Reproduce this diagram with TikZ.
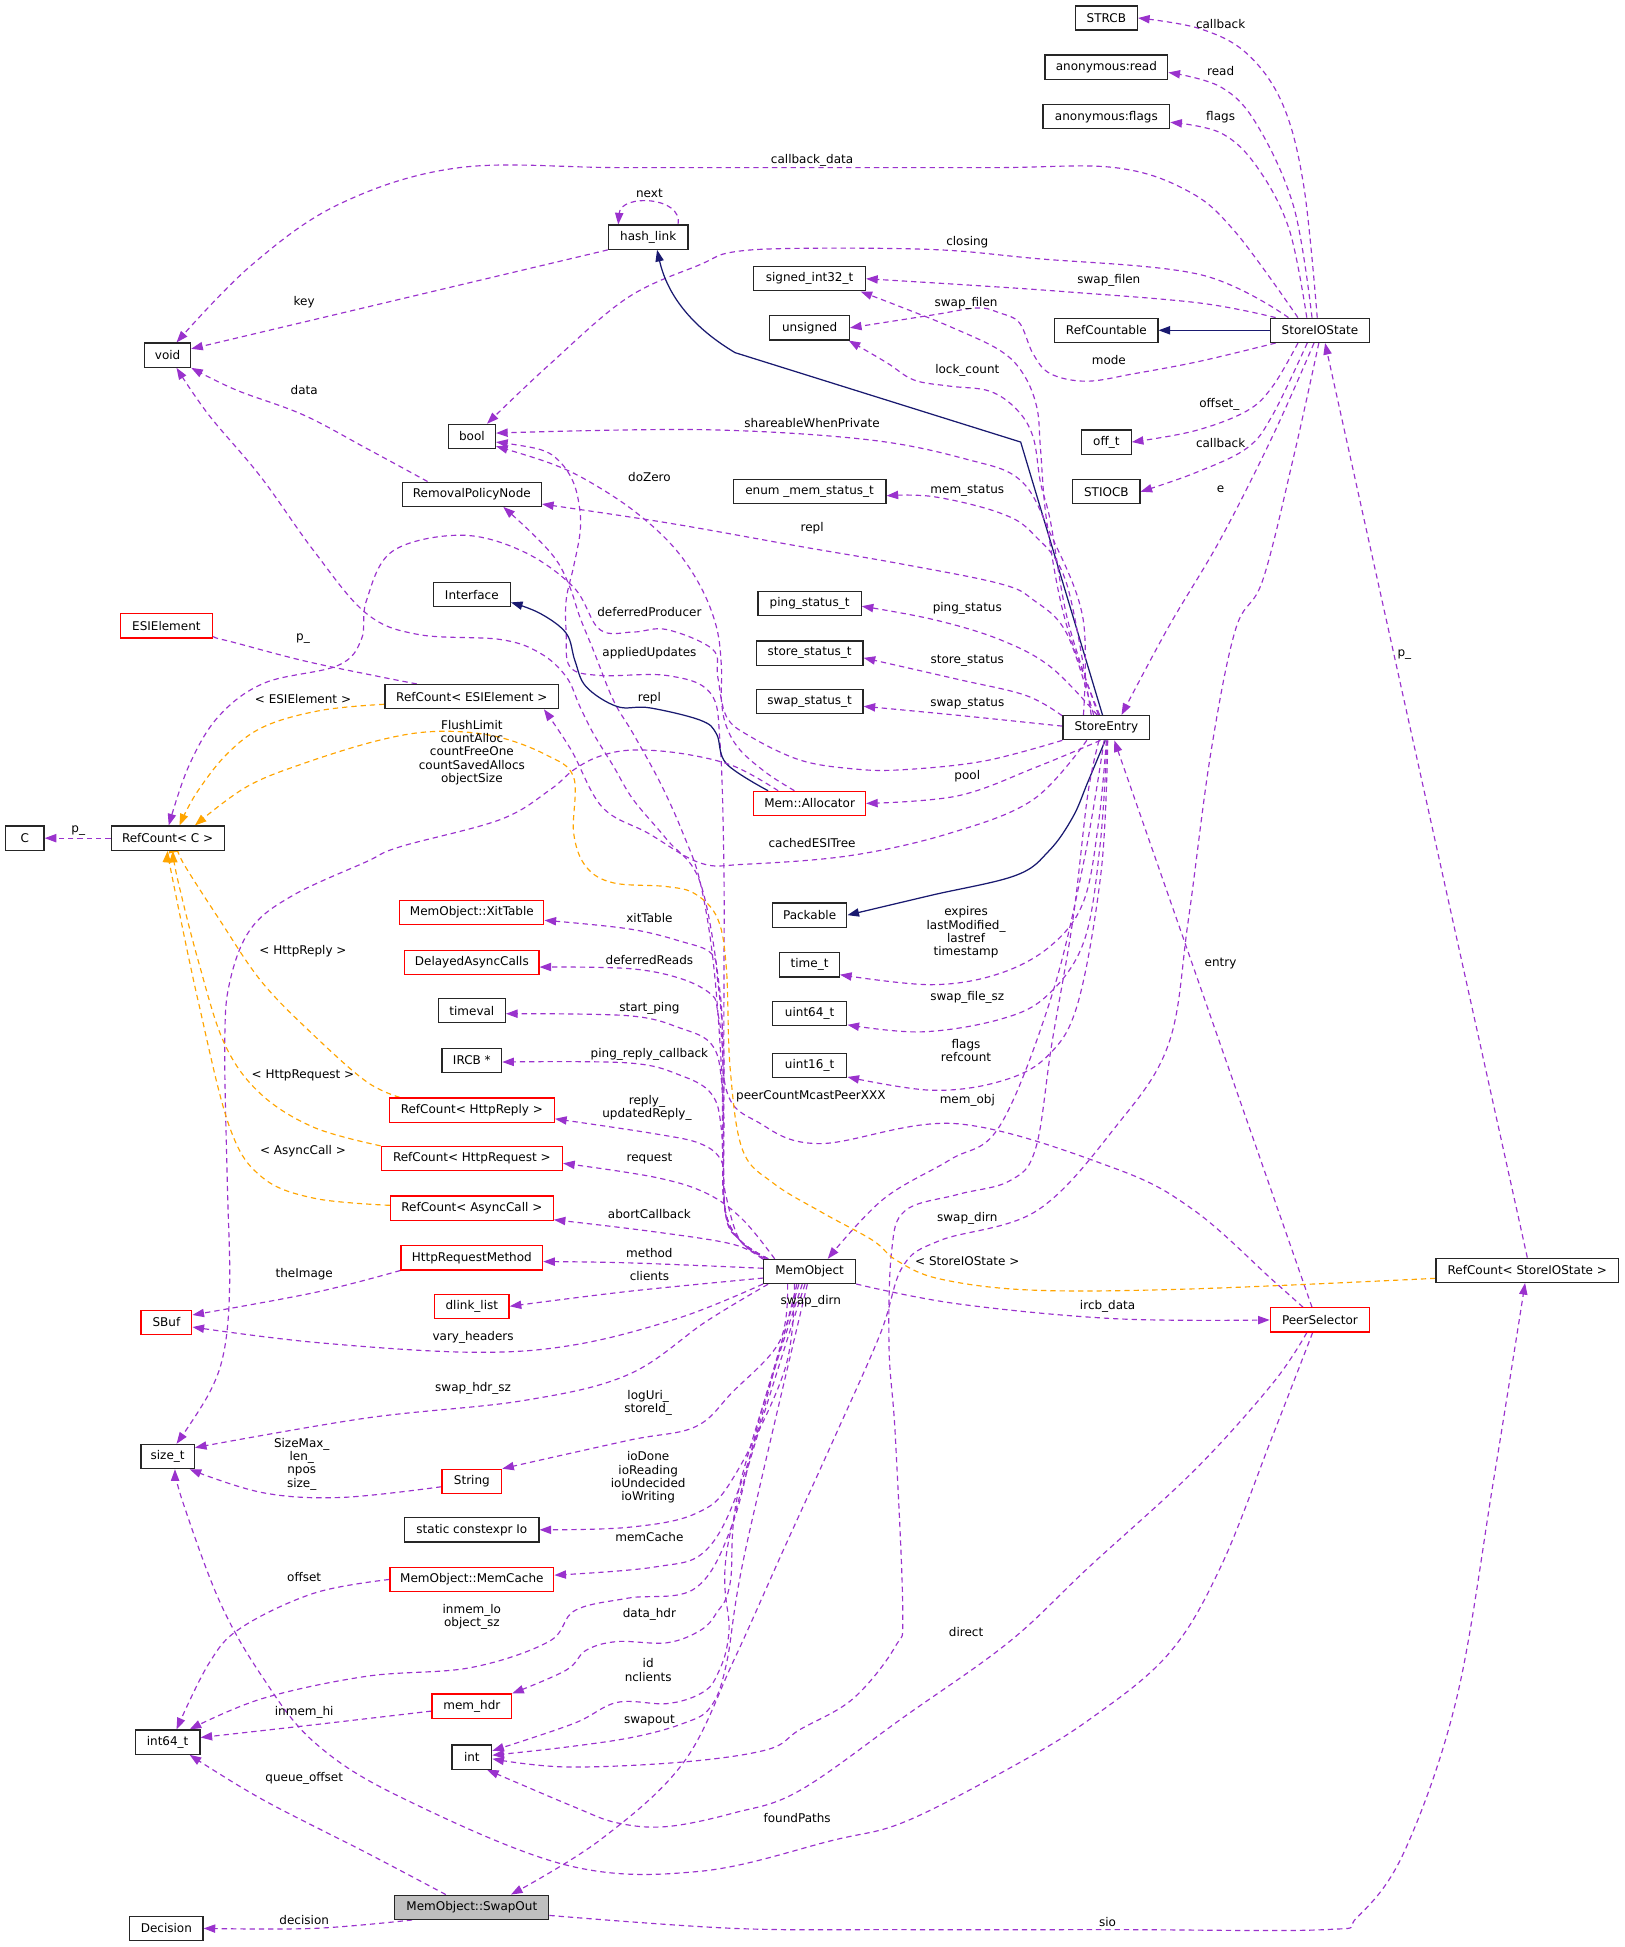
\documentclass[tikz,border=0pt]{standalone}
\usepackage{fontspec}
\setmainfont{DejaVu Sans}
\usetikzlibrary{arrows.meta,backgrounds}
\definecolor{pur}{HTML}{9A32CD}
\definecolor{org}{HTML}{FFA500}
\definecolor{nav}{HTML}{191970}
\definecolor{gfill}{HTML}{BFBFBF}
\newcommand{\lblfont}{\fontsize{7.25}{8.06}\selectfont}
\begin{document}
\begin{tikzpicture}[x=0.75pt,y=-0.75pt,
 cls/.style={draw=black!85,line width=0.75pt,fill=white,inner sep=0pt,minimum height=14.6pt,font=\lblfont},
 rcls/.style={cls,draw=red},
 bw/.style={minimum width=#1*0.75pt},
 lab/.style={inner sep=0pt,align=center,font=\lblfont},
 mem/.style={draw=pur,line width=0.7pt,dash pattern=on 3.2pt off 2.4pt,-{Triangle[length=7pt,width=5pt]}},
 tmpl/.style={mem,draw=org},
 inh/.style={draw=nav,line width=0.75pt,-{Triangle[length=7pt,width=5pt]}},
 sm/.style={smooth,tension=0.6}]
\useasboundingbox (0,0) rectangle (1308,1568);
% ---------------- nodes
\node[cls,bw=50] (STRCB) at (891,14.5) {STRCB};
\node[cls,bw=99] (anonread) at (891,54) {anonymous:read};
\node[cls,bw=102] (anonflags) at (891,94) {anonymous:flags};
\node[cls,bw=64] (hashlink) at (522,191) {hash\_link};
\node[cls,bw=90] (signed) at (652,224.5) {signed\_int32\_t};
\node[cls,bw=64] (unsigned) at (652,264) {unsigned};
\node[cls,bw=83] (RefCountable) at (891,266) {RefCountable};
\node[cls,bw=80] (StoreIOState) at (1063,266) {StoreIOState};
\node[cls,bw=37] (void) at (135,286) {void};
\node[cls,bw=38] (bool) at (380,351.5) {bool};
\node[cls,bw=40] (offt) at (891,356) {off\_t};
\node[cls,bw=112] (RPN) at (380,398) {RemovalPolicyNode};
\node[cls,bw=123] (enum) at (652,396) {enum \_mem\_status\_t};
\node[cls,bw=54] (STIOCB) at (891,396) {STIOCB};
\node[cls,bw=62] (Interface) at (380,479) {Interface};
\node[rcls,bw=74] (ESIElement) at (134,504) {ESIElement};
\node[cls,bw=83] (ping) at (652,486) {ping\_status\_t};
\node[cls,bw=86] (store) at (652,526) {store\_status\_t};
\node[cls,bw=86] (swap) at (652,565) {swap\_status\_t};
\node[cls,bw=140] (RCESI) at (380,561) {RefCount< ESIElement >};
\node[cls,bw=70] (StoreEntry) at (891,586) {StoreEntry};
\node[cls,bw=31] (C) at (20,675) {C};
\node[cls,bw=91] (RCC) at (135,675) {RefCount< C >};
\node[rcls,bw=90] (MemAlloc) at (652,647) {Mem::Allocator};
\node[cls,bw=60] (Packable) at (652,737) {Packable};
\node[rcls,bw=116] (XitTable) at (380,735) {MemObject::XitTable};
\node[cls,bw=48] (timet) at (652,777) {time\_t};
\node[rcls,bw=108] (Delayed) at (380,775) {DelayedAsyncCalls};
\node[cls,bw=54] (timeval) at (380,814) {timeval};
\node[cls,bw=60] (uint64) at (652,816) {uint64\_t};
\node[cls,bw=60] (uint16) at (652,858) {uint16\_t};
\node[cls,bw=48] (IRCB) at (380,854) {IRCB *};
\node[rcls,bw=133] (RCReply) at (380,894) {RefCount< HttpReply >};
\node[rcls,bw=146] (RCRequest) at (380,933) {RefCount< HttpRequest >};
\node[rcls,bw=131] (RCAsync) at (380,973) {RefCount< AsyncCall >};
\node[rcls,bw=114] (HRM) at (380,1013) {HttpRequestMethod};
\node[cls,bw=74] (MemObject) at (652,1024) {MemObject};
\node[cls,bw=147] (RCSIO) at (1230,1023) {RefCount< StoreIOState >};
\node[rcls,bw=60] (dlink) at (380,1052) {dlink\_list};
\node[rcls,bw=80] (PeerSelector) at (1063,1063) {PeerSelector};
\node[rcls,bw=41] (SBuf) at (134,1065) {SBuf};
\node[cls,bw=43] (sizet) at (135,1173) {size\_t};
\node[rcls,bw=48] (String) at (380,1193) {String};
\node[cls,bw=108] (Io) at (380,1232) {static constexpr Io};
\node[rcls,bw=132] (MemCache) at (380,1272) {MemObject::MemCache};
\node[cls,bw=52] (int64) at (135,1403) {int64\_t};
\node[rcls,bw=64] (memhdr) at (380,1374) {mem\_hdr};
\node[cls,bw=32] (int) at (380,1415) {int};
\node[cls,bw=124,fill=gfill] (SwapOut) at (380,1536) {MemObject::SwapOut};
\node[cls,bw=59] (Decision) at (134,1553) {Decision};
% ---------------- labels
\node[lab] (l1) at (983,19) {callback};
\node[lab] (l2) at (983,57) {read};
\node[lab] (l3) at (983,94) {flags};
\node[lab] (l4) at (654,129) {callback\_data};
\node[lab] (l5) at (523,156) {next};
\node[lab] (l6) at (779,195) {closing};
\node[lab] (l7) at (893,226) {swap\_filen};
\node[lab] (l8) at (778,244) {swap\_filen};
\node[lab] (l9) at (245,243) {key};
\node[lab] (l10) at (893,290) {mode};
\node[lab] (l11) at (779,298) {lock\_count};
\node[lab] (l12) at (245,314) {data};
\node[lab] (l13) at (982,326) {offset\_};
\node[lab] (l14) at (654,341) {shareableWhenPrivate};
\node[lab] (l15) at (983,357) {callback};
\node[lab] (l16) at (523,384) {doZero};
\node[lab] (l17) at (983,394) {e};
\node[lab] (l18) at (779,395) {mem\_status};
\node[lab] (l19) at (654,425) {repl};
\node[lab] (l20) at (523,493) {deferredProducer};
\node[lab] (l21) at (779,490) {ping\_status};
\node[lab] (l22) at (244,514) {p\_};
\node[lab] (l23) at (523,526) {appliedUpdates};
\node[lab] (l24) at (1131,527) {p\_};
\node[lab] (l25) at (779,532) {store\_status};
\node[lab] (l26) at (523,562) {repl};
\node[lab] (l27) at (244,563) {< ESIElement >};
\node[lab] (l28) at (779,567) {swap\_status};
\node[lab] (l29) at (380,606) {FlushLimit\\countAlloc\\countFreeOne\\countSavedAllocs\\objectSize};
\node[lab] (l30) at (779,625) {pool};
\node[lab] (l31) at (63,669) {p\_};
\node[lab] (l32) at (654,679) {cachedESITree};
\node[lab] (l33) at (778,751) {expires\\lastModified\_\\lastref\\timestamp};
\node[lab] (l34) at (523,739) {xitTable};
\node[lab] (l35) at (244,766) {< HttpReply >};
\node[lab] (l36) at (523,773) {deferredReads};
\node[lab] (l37) at (983,776) {entry};
\node[lab] (l38) at (779,803) {swap\_file\_sz};
\node[lab] (l39) at (523,812) {start\_ping};
\node[lab] (l40) at (778,846) {flags\\refcount};
\node[lab] (l41) at (523,849) {ping\_reply\_callback};
\node[lab] (l42) at (244,866) {< HttpRequest >};
\node[lab] (l43) at (653,883) {peerCountMcastPeerXXX};
\node[lab] (l44) at (779,886) {mem\_obj};
\node[lab] (l45) at (521,892) {reply\_\\updatedReply\_};
\node[lab] (l46) at (244,927) {< AsyncCall >};
\node[lab] (l47) at (523,933) {request};
\node[lab] (l48) at (523,978) {abortCallback};
\node[lab] (l49) at (779,981) {swap\_dirn};
\node[lab] (l50) at (523,1009) {method};
\node[lab] (l51) at (779,1016) {< StoreIOState >};
\node[lab] (l52) at (245,1026) {theImage};
\node[lab] (l53) at (523,1028) {clients};
\node[lab] (l54) at (653,1048) {swap\_dirn};
\node[lab] (l55) at (892,1052) {ircb\_data};
\node[lab] (l56) at (381,1077) {vary\_headers};
\node[lab] (l57) at (381,1118) {swap\_hdr\_sz};
\node[lab] (l58) at (522,1130) {logUri\_\\storeId\_};
\node[lab] (l59) at (243,1179) {SizeMax\_\\len\_\\npos\\size\_};
\node[lab] (l60) at (522,1190) {ioDone\\ioReading\\ioUndecided\\ioWriting};
\node[lab] (l61) at (523,1238) {memCache};
\node[lab] (l62) at (245,1270) {offset};
\node[lab] (l63) at (380,1302) {inmem\_lo\\object\_sz};
\node[lab] (l64) at (523,1300) {data\_hdr};
\node[lab] (l65) at (778,1314) {direct};
\node[lab] (l66) at (522,1345) {id\\nclients};
\node[lab] (l67) at (245,1379) {inmem\_hi};
\node[lab] (l68) at (523,1386) {swapout};
\node[lab] (l69) at (245,1432) {queue\_offset};
\node[lab] (l70) at (642,1464) {foundPaths};
\node[lab] (l71) at (245,1546) {decision};
\node[lab] (l72) at (892,1548) {sio};
% ---------------- edges
\begin{pgfonlayer}{background}
\fill[white] (0,0) rectangle (1308,1568);
% StoreIOState
\draw[mem] plot[sm] coordinates {(StoreIOState.102) (1050,150) (1033,84) (1004,43) (966,23) (STRCB.east)};
\draw[mem] plot[sm] coordinates {(StoreIOState.122) (1042,167) (1012,100) (983,70) (anonread.-5)};
\draw[mem] plot[sm] coordinates {(StoreIOState.136) (1038,184) (1012,134) (983,107) (anonflags.-5)};
\draw[mem] plot[sm] coordinates {(StoreIOState.150) (995,187) (957,154) (898,135) (800,135) (650,135) (500,135) (370,135) (274,164) (202,214) (void.55)};
\draw[mem] plot[sm] coordinates {(StoreIOState.158) (966,221) (832,208) (752,201) (644,200) (590,203) (564,213) (505,240) (442,294) (bool.40)};
\draw[mem] plot[sm] coordinates {(StoreIOState.164) (966,244) (859,235) (779,229.5) (signed.east)};
\draw[inh] (StoreIOState.west) -- (RefCountable.east);
\draw[mem] plot[sm] coordinates {(StoreIOState.-164) (966,291) (913,301) (875,307) (846,301) (832,285) (821,260) (805,252) (787,248) (752,253.5) (unsigned.east)};
\draw[mem] plot[sm] coordinates {(StoreIOState.-150) (1025,311) (1004,331) (962,347) (offt.east)};
\draw[mem] plot[sm] coordinates {(StoreIOState.-135) (1025,334) (1004,361) (962,381) (STIOCB.east)};
\draw[mem] plot[sm] coordinates {(StoreIOState.-115) (1025,351) (983,434) (941,505) (StoreEntry.40)};
\draw[mem] plot[sm] coordinates {(StoreIOState.-95) (1042,367) (1017,467) (995,507) (975,607) (957,741) (941,841) (898,908) (835,975) (757,999) (727,1020) (709,1074) (671,1160) (631,1248) (591,1337) (550,1420) (483,1482) (SwapOut.18)};
\draw[mem] (RCSIO.north) -- (StoreIOState.-68);
% PeerSelector
\draw[mem] (PeerSelector.122) -- (StoreEntry.-58);
\draw[mem] plot[sm] coordinates {(PeerSelector.-136) (1025,1114) (962,1184) (877,1262) (813,1322) (729,1382) (644,1442) (591,1460) (537,1471) (497,1468) (462,1455) (int.-40)};
\draw[mem] plot[sm] coordinates {(PeerSelector.-120) (1025,1156) (983,1262) (941,1332) (877,1385) (813,1424) (729,1467) (671,1482) (564,1507) (456,1502) (322,1447) (253,1403) (211,1350) (177,1290) (147,1209) (sizet.-60)};
\draw[mem] plot[sm] coordinates {(PeerSelector.143) (1025,1031) (962,975) (898,941) (771,905) (660,921) (611,904) (585,878) (580,800) (564,711) (537,676) (510,644) (494,617) (478,591) (467,569) (456,545) (435,526) (403,515) (337,511) (295,494) (253,444) (210,384) (168,334) (void.-55)};
\draw[mem] plot[sm] coordinates {(MemObject.-15) (771,1050) (898,1062) (PeerSelector.west)};
% SwapOut
\draw[mem] plot[sm] coordinates {(SwapOut.-6) (591,1553) (725,1554) (900,1554) (1067,1554) (1093,1544) (1131,1491) (1173,1368) (1203,1191) (RCSIO.-100)};
\draw[mem] plot[sm] coordinates {(SwapOut.154) (295,1492) (211,1449) (int64.-30)};
\draw[mem] plot[sm] coordinates {(SwapOut.-168) (253,1553) (Decision.east)};
% MemObject
\draw[mem] plot[sm] coordinates {(MemObject.163) (596,999) (584,975) (582,930) (583,850) (578,790) (573,768) (548,758) (506,748) (XitTable.-6)};
\draw[mem] plot[sm] coordinates {(MemObject.163) (596,999) (584,975) (582,930) (582,850) (578,815) (573,801) (548,788) (506,780) (Delayed.-4)};
\draw[mem] plot[sm] coordinates {(MemObject.163) (596,999) (584,975) (582,930) (581,870) (573,841) (548,828) (506,818) (timeval.-5)};
\draw[mem] plot[sm] coordinates {(MemObject.163) (596,999) (584,975) (581,910) (573,881) (548,866) (506,856) (IRCB.-3)};
\draw[mem] plot[sm] coordinates {(MemObject.163) (596,999) (584,960) (581,935) (564,921) (527,913) (RCReply.-6)};
\draw[mem] plot[sm] coordinates {(MemObject.160) (598,982) (569,961) (527,948) (RCRequest.-3)};
\draw[mem] plot[sm] coordinates {(MemObject.165) (590,1002) (527,992) (RCAsync.-8)};
\draw[mem] plot[sm] coordinates {(MemObject.176) (506,1017) (HRM.-3)};
\draw[mem] plot[sm] coordinates {(MemObject.-172) (506,1040) (dlink.east)};
\draw[mem] plot[sm] coordinates {(MemObject.-165) (548,1061) (463,1083) (379,1089) (253,1081) (SBuf.-10)};
\draw[mem] plot[sm] coordinates {(HRM.-170) (253,1041) (SBuf.16)};
\draw[mem] plot[sm] coordinates {(MemObject.-163) (569,1064) (506,1107) (421,1128) (295,1142) (sizet.18)};
\draw[mem] plot[sm] coordinates {(String.-170) (274,1206) (211,1202) (sizet.-30)};
\draw[mem] plot[sm] coordinates {(MemObject.-150) (628,1080) (590,1121) (560,1149) (506,1160) (String.north east)};
\draw[mem] plot[sm] coordinates {(MemObject.-140) (632,1103) (590,1191) (560,1219) (506,1230) (Io.east)};
\draw[mem] plot[sm] coordinates {(MemObject.-135) (628,1087) (598,1191) (569,1248) (527,1262) (MemCache.3)};
\draw[mem] plot[sm] coordinates {(MemObject.-130) (612,1141) (590,1227) (560,1279) (506,1287) (463,1297) (442,1322) (379,1343) (295,1350) (211,1368) (int64.30)};
\draw[mem] plot[sm] coordinates {(MemCache.west) (253,1283) (194,1311) (168,1340) (int64.55)};
\draw[mem] plot[sm] coordinates {(memhdr.-173) (253,1389) (int64.8)};
\draw[mem] plot[sm] coordinates {(MemObject.-120) (596,1195) (588,1275) (577,1299) (564,1313) (537,1323) (497,1322) (472,1329) (456,1345) (memhdr.north east)};
\draw[mem] plot[sm] coordinates {(MemObject.-110) (588,1235) (587,1315) (577,1350) (564,1364) (537,1372) (497,1371) (462,1388) (int.17)};
\draw[mem] plot[sm] coordinates {(MemObject.-100) (600,1250) (585,1340) (572,1375) (550,1388) (510,1399) (456,1407) (int.5)};
\draw[mem] plot[sm] coordinates {(MemObject.164) (596,999) (584,975) (583,900) (583,800) (583,700) (580,600) (572,558) (537,544) (483,544) (459,537) (456,510) (456,483) (462,456) (467,430) (467,411) (462,389) (451,372) (435,362) (bool.-13)};
\draw[mem] plot[sm] coordinates {(MemObject.165) (596,999) (584,975) (582,880) (575,780) (564,711) (550,671) (532,631) (510,591) (494,564) (478,524) (467,497) (459,473) (448,451) (429,430) (RPN.-22)};
% StoreEntry
\draw[inh] (StoreEntry.107) -- (822,356) -- (592,284) .. controls (560,265) and (538,240) .. (hashlink.-55);
\draw[inh] plot[sm] coordinates {(StoreEntry.-95) (876,630) (864,658) (845,685) (818,705) (750,721) (Packable.east)};
\draw[mem] plot[sm] coordinates {(StoreEntry.118) (858,500) (843,420) (838,362) (835,328) (824,301) (805,282) (765,263) (725,247) (signed.-14)};
\draw[mem] plot[sm] coordinates {(StoreEntry.122) (860,500) (846,420) (838,389) (832,352) (819,330) (797,315) (765,311) (736,306) (714,292) (unsigned.-18)};
\draw[mem] plot[sm] coordinates {(StoreEntry.151) (872,497) (846,430) (822,387) (779,370) (698,354) (564,346) (bool.8)};
\draw[mem] plot[sm] coordinates {(StoreEntry.140) (859,470) (832,430) (805,413) (752,400) (enum.-3)};
\draw[mem] plot[sm] coordinates {(StoreEntry.135) (859,510) (832,483) (805,470) (725,454) (644,440) (537,421) (RPN.-8)};
\draw[mem] plot[sm] coordinates {(StoreEntry.126) (846,537) (805,515) (752,499) (ping.-3)};
\draw[mem] plot[sm] coordinates {(StoreEntry.165) (826,560) (771,547) (store.-5)};
\draw[mem] plot[sm] coordinates {(StoreEntry.178) (771,576) (swap.-5)};
\draw[mem] plot[sm] coordinates {(StoreEntry.-115) (834,618) (771,641) (MemAlloc.east)};
\draw[mem] plot[sm] coordinates {(StoreEntry.-147) (832,644) (765,671) (685,689) (600,696) (564,695) (522,671) (485,650) (460,604) (RCESI.-10)};
\draw[mem] plot[sm] coordinates {(StoreEntry.south west) (792,613) (725,620) (685,619) (644,612) (604,593) (585,577) (578,545) (574,523) (537,507) (510,509) (483,507) (462,473) (421,444) (371,431) (316,444) (295,484) (291,515) (272,536) (213,550) (176,577) (152,617) (RCC.85)};
\draw[mem] plot[sm] coordinates {(StoreEntry.-90) (885,660) (873,725) (847,761) (805,784) (750,793) (timet.-18)};
\draw[mem] plot[sm] coordinates {(StoreEntry.-87) (886,680) (873,758) (843,802) (805,821) (742,831) (uint64.-17)};
\draw[mem] plot[sm] coordinates {(StoreEntry.-84) (887,700) (868,808) (843,851) (805,871) (750,878) (uint16.-17)};
\draw[mem] plot[sm] coordinates {(StoreEntry.-100) (872,698) (846,805) (805,907) (765,934) (711,966) (MemObject.35)};
\draw[mem] plot[sm] coordinates {(StoreEntry.-120) (876,640) (864,741) (847,841) (834,925) (813,951) (771,962) (729,975) (718,1008) (716,1086) (721,1156) (727,1297) (721,1326) (687,1368) (644,1393) (618,1409) (550,1419) (456,1423) (int.-5)};
% Mem::Allocator
\draw[inh] plot[sm] coordinates {(MemAlloc.163) (585,615) (577,591) (564,580) (523,570) (497,569) (472,553) (463,532) (456,510) (435,494) (Interface.-11)};
\draw[mem] plot[sm] coordinates {(MemAlloc.158) (591,617) (550,607) (510,604) (483,609) (462,620) (443,636) (403,660) (322,682) (295,694) (236,721) (202,748) (185,791) (181,841) (183,950) (185,1031) (181,1085) (169,1121) (sizet.55)};
\draw[mem] plot[sm] coordinates {(MemAlloc.140) (618,623) (596,604) (585,585) (581,564) (581,537) (577,505) (564,472) (542,440) (510,411) (473,387) (443,373) (bool.-22)};
% templates
\draw[tmpl] plot[sm] coordinates {(RCESI.-175) (259,572) (213,585) (183,607) (158,639) (RCC.47)};
\draw[tmpl] plot[sm] coordinates {(RCSIO.-175) (960,1038) (832,1039) (757,1030) (722,1015) (703,999) (663,977) (623,953) (598,926) (588,860) (585,780) (578,740) (560,720) (537,714) (494,711) (472,698) (462,671) (462,626) (440,608) (399,593) (352,589) (306,596) (244,615) (198,634) (RCC.25)};
\draw[tmpl] plot[sm] coordinates {(RCReply.170) (295,871) (253,834) (211,791) (177,741) (147,694) (RCC.-44)};
\draw[tmpl] plot[sm] coordinates {(RCRequest.north west) (253,908) (210,881) (181,841) (160,775) (143,708) (RCC.-68)};
\draw[tmpl] plot[sm] coordinates {(RCAsync.178) (253,965) (211,948) (185,908) (160,808) (139,708) (RCC.-90)};
% others
\draw[mem] (RCC.west) -- (C.east);
\draw[mem] plot[sm] coordinates {(RCESI.167) (306,545) (244,532) (183,516) (ESIElement.south east)};
\draw[mem] (hashlink.south west) -- (void.15);
\draw[mem] plot[sm] coordinates {(RPN.164) (295,361) (244,334) (190,314) (void.south east)};
\draw[mem] (hashlink.23) .. controls (550,158) and (500,156) .. (hashlink.157);
\end{pgfonlayer}
\end{tikzpicture}
\end{document}
